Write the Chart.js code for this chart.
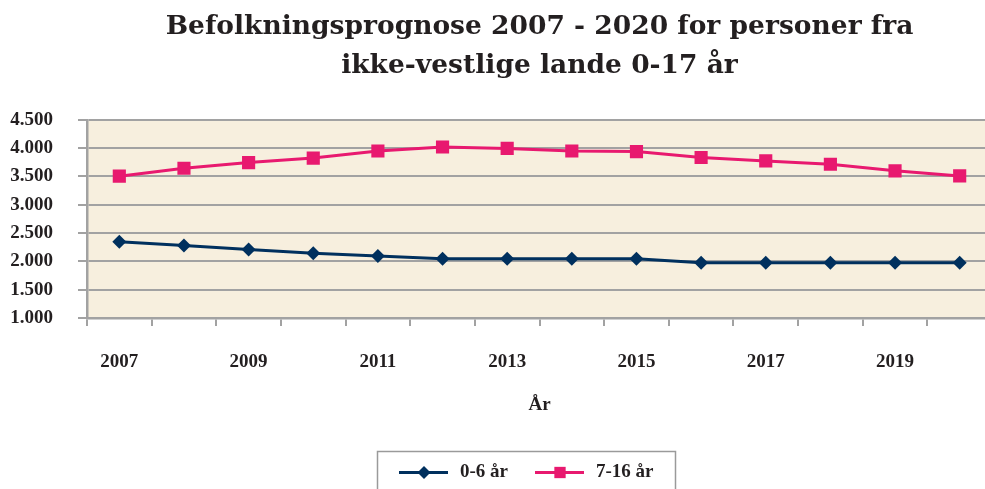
<!DOCTYPE html>
<html>
<head>
<meta charset="utf-8">
<script src="https://cdn.jsdelivr.net/npm/chart.js@4.4.0/dist/chart.umd.min.js"></script>
<style>
  html, body { margin: 0; padding: 0; overflow: hidden; background: #ffffff; }
  #wrap { width: 1076px; height: 489px; }
</style>
</head>
<body>
<div id="wrap"><canvas id="c" width="1076" height="489"></canvas></div>
<script>
// ---- data ----
const years = ['2007','2008','2009','2010','2011','2012','2013','2014','2015','2016','2017','2018','2019','2020'];
const age0to6 = [2345, 2280, 2210, 2145, 2095, 2045, 2045, 2045, 2045, 1975, 1975, 1975, 1975, 1975];
const age7to16 = [3505, 3645, 3745, 3825, 3950, 4020, 3995, 3950, 3940, 3835, 3775, 3715, 3600, 3510];
const seriesNames = ['0-6 år', '7-16 år'];
const titleLines = ['Befolkningsprognose 2007 - 2020 for personer fra', 'ikke-vestlige lande 0-17 år'];
const xAxisTitle = 'År';

const NAVY = '#00305e';
const PINK = '#e8196f';
const TEXT = '#231f20';
const GRID = '#a2a2a2';
const FONT = "'Liberation Serif', 'DejaVu Serif', serif";
const TITLE_FONT = "'DejaVu Serif', 'Liberation Serif', serif";

function fmt(v) {
  return String(v).replace(/\B(?=(\d{3})+(?!\d))/g, '.');
}

const bgPlugin = {
  id: 'plotBg',
  beforeDraw(chart) {
    const {ctx, chartArea: a} = chart;
    ctx.save();
    ctx.fillStyle = '#f7efde';
    ctx.fillRect(a.left, a.top, a.right - a.left, a.bottom - a.top);
    ctx.restore();
  }
};

function drawMarker(ctx, style, x, y, r, color) {
  ctx.save();
  ctx.fillStyle = color;
  ctx.beginPath();
  if (style === 'rectRot') {
    ctx.moveTo(x, y - r); ctx.lineTo(x + r, y); ctx.lineTo(x, y + r); ctx.lineTo(x - r, y);
    ctx.closePath();
  } else {
    const s = r * Math.SQRT1_2;
    ctx.rect(x - s, y - s, 2 * s, 2 * s);
  }
  ctx.fill();
  ctx.restore();
}

const legendPlugin = {
  id: 'boxLegend',
  afterDraw(chart, args, opts) {
    const ctx = chart.ctx;
    ctx.save();
    ctx.strokeStyle = '#9a9a9a';
    ctx.lineWidth = 1.5;
    ctx.strokeRect(opts.x, opts.y, opts.w, opts.h);
    const cy = opts.y + 21;
    chart.data.datasets.forEach((ds, i) => {
      const x0 = opts.itemX[i];
      ctx.strokeStyle = ds.borderColor;
      ctx.lineWidth = 3;
      ctx.beginPath();
      ctx.moveTo(x0, cy);
      ctx.lineTo(x0 + 49, cy);
      ctx.stroke();
      drawMarker(ctx, ds.pointStyle, x0 + 25, cy, ds.pointStyle === 'rectRot' ? 6.5 : 8, ds.backgroundColor);
      ctx.fillStyle = TEXT;
      ctx.font = 'bold 19px ' + FONT;
      ctx.textBaseline = 'middle';
      ctx.textAlign = 'left';
      ctx.fillText(ds.label, x0 + 61, cy);
    });
    ctx.restore();
  }
};

new Chart(document.getElementById('c'), {
  type: 'line',
  data: {
    labels: years,
    datasets: [
      {
        label: seriesNames[0],
        data: age0to6,
        borderColor: NAVY,
        backgroundColor: NAVY,
        borderWidth: 3,
        pointStyle: 'rectRot',
        pointRadius: 7,
        pointBorderWidth: 0,
        tension: 0
      },
      {
        label: seriesNames[1],
        data: age7to16,
        borderColor: PINK,
        backgroundColor: PINK,
        borderWidth: 3,
        pointStyle: 'rect',
        pointRadius: 9.3,
        pointBorderWidth: 0,
        tension: 0
      }
    ]
  },
  options: {
    responsive: false,
    animation: false,
    layout: { padding: { left: 0, right: 84, top: 0, bottom: 71 } },
    plugins: {
      legend: { display: false },
      tooltip: { enabled: false },
      title: {
        display: true,
        fullSize: false,
        text: titleLines,
        color: TEXT,
        font: { family: TITLE_FONT, weight: 'bold', size: 26.5, lineHeight: 1.45 },
        padding: { top: 8, bottom: 35 }
      },
      boxLegend: { x: 377.5, y: 451.5, w: 298, h: 50, itemX: [399, 535] }
    },
    scales: {
      x: {
        type: 'category',
        offset: true,
        grid: {
          offset: true,
          drawOnChartArea: false,
          drawTicks: true,
          tickLength: 8,
          color: GRID,
          lineWidth: 2
        },
        border: { display: true, color: GRID, width: 2.5 },
        ticks: {
          autoSkip: false,
          maxRotation: 0,
          padding: 25,
          color: TEXT,
          font: { family: FONT, weight: 'bold', size: 19 },
          callback: function(val, idx) { return idx % 2 === 0 ? this.getLabelForValue(val) : ''; }
        },
        title: {
          display: true,
          text: xAxisTitle,
          color: TEXT,
          font: { family: FONT, weight: 'bold', size: 19 },
          padding: { top: 0, bottom: 2 }
        },
        afterFit(scale) { scale.height = 100; }
      },
      y: {
        min: 1000,
        max: 4500,
        ticks: {
          stepSize: 500,
          padding: 25,
          color: TEXT,
          font: { family: FONT, weight: 'bold', size: 19 },
          callback: (v) => fmt(v)
        },
        grid: {
          color: GRID,
          lineWidth: 2,
          tickLength: 9,
          drawTicks: true
        },
        border: { display: true, color: GRID, width: 2.5 },
        afterFit(scale) { scale.width = 87; }
      }
    }
  },
  plugins: [bgPlugin, legendPlugin]
});
</script>
</body>
</html>
